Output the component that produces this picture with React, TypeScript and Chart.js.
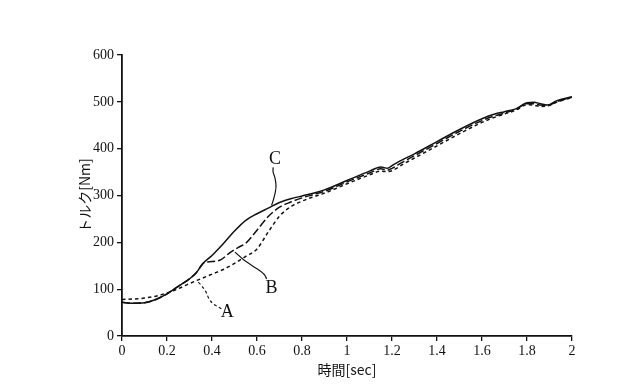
import React, { useEffect, useRef } from "react";
import { Chart, registerables } from "chart.js";

Chart.register(...registerables);

// Curve C (solid)
const timeC = [0, 0.05, 0.1, 0.15, 0.2, 0.25, 0.3, 0.33, 0.36, 0.4, 0.45, 0.5, 0.55, 0.6, 0.65, 0.7, 0.75, 0.8, 0.85, 0.9, 1.0, 1.1, 1.15, 1.18, 1.2, 1.25, 1.3, 1.4, 1.5, 1.6, 1.65, 1.7, 1.75, 1.8, 1.83, 1.86, 1.89, 1.93, 2.0];
const torqueC = [72, 70, 71, 78, 90, 106, 122, 135, 155, 172, 197, 224, 247, 261, 273, 285, 293, 299, 305, 312, 332, 352, 361, 358, 364, 377, 389, 415, 441, 464, 473, 479, 485, 498, 499, 496, 493, 502, 511];

// Curve B (long dash)
const timeB = [0, 0.05, 0.1, 0.15, 0.2, 0.25, 0.3, 0.33, 0.36, 0.38, 0.42, 0.44, 0.48, 0.52, 0.55, 0.6, 0.65, 0.7, 0.75, 0.8, 0.85, 0.9, 1.0, 1.1, 1.15, 1.18, 1.2, 1.25, 1.3, 1.4, 1.5, 1.6, 1.65, 1.7, 1.75, 1.8, 1.83, 1.86, 1.89, 1.93, 2.0];
const torqueB = [72, 70, 71, 78, 90, 106, 122, 135, 155, 158, 160, 163, 178, 190, 198, 226, 255, 275, 286, 295, 302, 309, 329, 348, 357, 354, 358, 372, 385, 411, 437, 460, 469, 476, 484, 496, 496, 493, 492, 500, 510];

// Curve A (short dash)
const timeA = [0, 0.05, 0.1, 0.15, 0.2, 0.25, 0.3, 0.35, 0.4, 0.45, 0.5, 0.55, 0.6, 0.65, 0.7, 0.75, 0.8, 0.85, 0.9, 1.0, 1.1, 1.15, 1.18, 1.2, 1.25, 1.3, 1.4, 1.5, 1.6, 1.65, 1.7, 1.75, 1.8, 1.83, 1.86, 1.89, 1.93, 2.0];
const torqueA = [78, 79, 81, 85, 92, 101, 112, 122, 132, 142, 155, 170, 186, 222, 256, 276, 288, 297, 305, 325, 344, 352, 351, 353, 367, 380, 406, 432, 456, 466, 474, 482, 494, 493, 490, 491, 499, 509];

// Tick settings
const xTicks = [0, 0.2, 0.4, 0.6, 0.8, 1, 1.2, 1.4, 1.6, 1.8, 2];
const yTicks = [0, 100, 200, 300, 400, 500, 600];

const xTitle = "時間[sec]";
const yTitle = "トルク[Nm]";

// Curve labels with leader lines (data coordinates)
const labelNames = ["A", "B", "C"];
const labelPos = [
  [0.468, 51],
  [0.665, 101],
  [0.68, 378],
];
const leaderPaths = [
  [[0.339, 115], [0.369, 101], [0.391, 72], [0.443, 58]],
  [[0.502, 179], [0.539, 161], [0.628, 136], [0.643, 122]],
  [[0.665, 279], [0.688, 311], [0.68, 340], [0.67, 350], [0.672, 360]],
];
const leaderDashed = [true, false, false];

function toPoints(xs: number[], ys: number[]) {
  return xs.map((x, i) => ({ x, y: ys[i] }));
}

export default function App() {
  const ref = useRef<HTMLCanvasElement | null>(null);

  useEffect(() => {
    if (!ref.current) return;

    const annotPlugin = {
      id: "annot",
      afterDatasetsDraw(chart: any) {
        const { ctx, scales, chartArea } = chart;
        const xs = scales.x;
        const ys = scales.y;
        ctx.save();
        ctx.strokeStyle = "#111";
        ctx.lineWidth = 1.2;
        leaderPaths.forEach((path, i) => {
          const pts = path.map(([t, v]) => [xs.getPixelForValue(t), ys.getPixelForValue(v)]);
          ctx.setLineDash(leaderDashed[i] ? [3, 2.5] : []);
          ctx.beginPath();
          ctx.moveTo(pts[0][0], pts[0][1]);
          for (let k = 1; k < pts.length - 1; k++) {
            const mx = (pts[k][0] + pts[k + 1][0]) / 2;
            const my = (pts[k][1] + pts[k + 1][1]) / 2;
            ctx.quadraticCurveTo(pts[k][0], pts[k][1], mx, my);
          }
          const last = pts[pts.length - 1];
          ctx.lineTo(last[0], last[1]);
          ctx.stroke();
        });
        ctx.setLineDash([]);
        ctx.fillStyle = "#111";
        ctx.font = "18px 'Liberation Serif', serif";
        ctx.textAlign = "center";
        ctx.textBaseline = "middle";
        labelNames.forEach((name, i) => {
          ctx.fillText(name, xs.getPixelForValue(labelPos[i][0]), ys.getPixelForValue(labelPos[i][1]));
        });
        // axis titles
        ctx.font = "14px 'Noto Sans CJK JP', sans-serif";
        ctx.fillText(xTitle, (chartArea.left + chartArea.right) / 2, chartArea.bottom + 34);
        ctx.translate(chartArea.left - 37, (chartArea.top + chartArea.bottom) / 2);
        ctx.rotate(-Math.PI / 2);
        ctx.fillText(yTitle, 0, 0);
        ctx.restore();
      },
    };

    const chart = new Chart(ref.current, {
      type: "line",
      data: {
        datasets: [
          {
            label: "A",
            data: toPoints(timeA, torqueA),
            borderColor: "#111",
            borderWidth: 1.5,
            borderDash: [3.5, 3],
            pointRadius: 0,
            cubicInterpolationMode: "monotone",
            fill: false,
          },
          {
            label: "B",
            data: toPoints(timeB, torqueB),
            borderColor: "#111",
            borderWidth: 1.5,
            borderDash: [8, 3],
            pointRadius: 0,
            cubicInterpolationMode: "monotone",
            fill: false,
          },
          {
            label: "C",
            data: toPoints(timeC, torqueC),
            borderColor: "#111",
            borderWidth: 1.5,
            pointRadius: 0,
            cubicInterpolationMode: "monotone",
            fill: false,
          },
        ],
      },
      options: {
        responsive: false,
        animation: false,
        devicePixelRatio: 1,
        layout: { padding: { top: 55, right: 68, left: 0, bottom: 0 } },
        plugins: {
          legend: { display: false },
          tooltip: { enabled: false },
        },
        scales: {
          x: {
            type: "linear",
            min: 0,
            max: 2,
            afterFit: (s: any) => {
              s.height = 56;
            },
            afterBuildTicks: (s: any) => {
              s.ticks = xTicks.map((v) => ({ value: v }));
            },
            border: { color: "#111", width: 1.8 },
            grid: { drawOnChartArea: false, drawTicks: true, tickLength: 5, color: "#111", lineWidth: 1.3 },
            ticks: {
              color: "#111",
              padding: 2,
              maxRotation: 0,
              autoSkip: false,
              font: { family: "'Liberation Serif', serif", size: 14 },
              callback: (v: any) => (v === 0 || v === 1 || v === 2 ? String(v) : Number(v).toFixed(1)),
            },
          },
          y: {
            type: "linear",
            min: 0,
            max: 600,
            afterFit: (s: any) => {
              s.width = 122;
            },
            afterBuildTicks: (s: any) => {
              s.ticks = yTicks.map((v) => ({ value: v }));
            },
            border: { color: "#111", width: 1.8 },
            grid: { drawOnChartArea: false, drawTicks: true, tickLength: 5, color: "#111", lineWidth: 1.3 },
            ticks: {
              color: "#111",
              padding: 3,
              font: { family: "'Liberation Serif', serif", size: 14 },
            },
          },
        },
      },
      plugins: [annotPlugin],
    } as any);

    return () => chart.destroy();
  }, []);

  return (
    <div style={{ position: "absolute", left: 0, top: 0, width: 640, height: 392, background: "#fff" }}>
      <canvas ref={ref} width={640} height={392} style={{ width: 640, height: 392 }} />
    </div>
  );
}
